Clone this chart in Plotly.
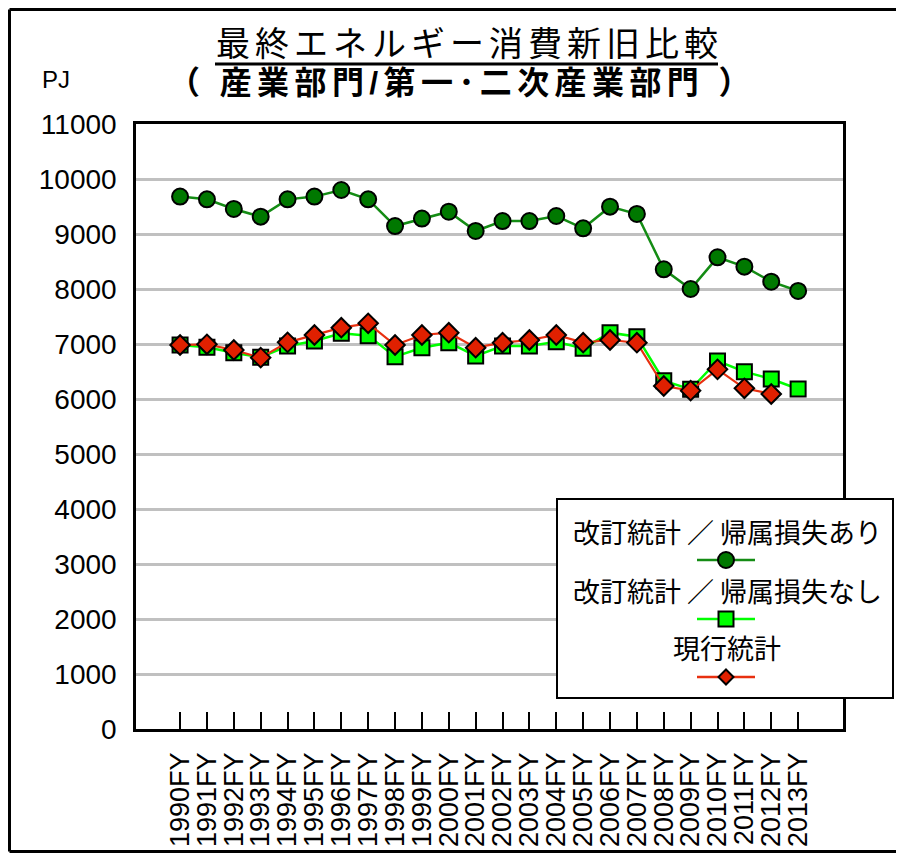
import plotly.graph_objects as go

years = [f"{y}FY" for y in range(1990, 2014)]

kaitei_ari = [9680, 9630, 9455, 9315, 9630, 9680, 9800, 9630, 9145, 9280, 9405, 9055,
              9236, 9236, 9327, 9103, 9497, 9364, 8358, 8000, 8576, 8406, 8133, 7964]
kaitei_nashi = [6982, 6939, 6842, 6758, 6964, 7055, 7194, 7152, 6770, 6933, 7024, 6782,
                6964, 6964, 7042, 6921, 7206, 7133, 6333, 6176, 6691, 6497, 6364, 6182]
genko = [6982, 6994, 6891, 6752, 7030, 7164, 7297, 7376, 6982, 7164, 7206, 6933,
         7024, 7073, 7164, 7024, 7073, 7024, 6236, 6152, 6539, 6194, 6091, None]

series_names = ["改訂統計 ／ 帰属損失あり", "改訂統計 ／ 帰属損失なし", "現行統計"]
title_1 = "最終エネルギー消費新旧比較"
title_2 = "（ 産業部門/第一･二次産業部門 ）"
unit_label = "PJ"

DKG_LINE = "#148c14"
DKG_FILL = "#007800"
LIME = "#00ff00"
RED = "#e02000"
RED_LINE = "#e83010"

fig = go.Figure()
fig.add_trace(go.Scatter(
    x=years, y=kaitei_ari, name=series_names[0], mode="lines+markers",
    line=dict(color=DKG_LINE, width=2.5),
    marker=dict(symbol="circle", size=16, color=DKG_FILL, line=dict(color="black", width=2)),
))
fig.add_trace(go.Scatter(
    x=years, y=kaitei_nashi, name=series_names[1], mode="lines+markers",
    line=dict(color=LIME, width=2.5),
    marker=dict(symbol="square", size=15, color=LIME, line=dict(color="black", width=2)),
))
fig.add_trace(go.Scatter(
    x=years, y=genko, name=series_names[2], mode="lines+markers",
    line=dict(color=RED_LINE, width=2.2),
    marker=dict(symbol="diamond", size=15, color=RED, line=dict(color="black", width=2)),
))

# page has an 8px body margin all round: the figure is sized so the page fits the window
OFF = 8
W, H = 904 - 2 * OFF, 861 - 2 * OFF
L, R, T, B = 136 - OFF, 843 - OFF, 124 - OFF, 729 - OFF
PW, PH = R - L, B - T

def px(x):  # page px -> paper
    return (x - OFF - L) / PW

def py(y):
    return (B - (y - OFF)) / PH

shapes = []
annotations = []

# outer chart frame (left, top, bottom; right edge is outside the picture)
frame = dict(color="black", width=3)
FB = 851.5
shapes.append(dict(type="line", xref="paper", yref="paper", x0=px(OFF + 1.5), x1=px(OFF + 1.5),
                   y0=py(FB), y1=py(OFF + 1.5), line=frame, layer="below"))
shapes.append(dict(type="line", xref="paper", yref="paper", x0=px(OFF + 1.5), x1=px(1000),
                   y0=py(OFF + 1.5), y1=py(OFF + 1.5), line=frame, layer="below"))
shapes.append(dict(type="line", xref="paper", yref="paper", x0=px(OFF + 1.5), x1=px(1000),
                   y0=py(FB), y1=py(FB), line=frame, layer="below"))

# legend box
shapes.append(dict(type="rect", xref="paper", yref="paper", x0=px(557), x1=px(893),
                   y0=py(698), y1=py(499), line=dict(color="black", width=2),
                   fillcolor="white", layer="above"))

leg_font = dict(family="Noto Sans CJK JP, sans-serif", size=27, color="black")
text_y = [531, 590, 647]
line_y = [560, 619, 677]
lx0, lx1, mx = 697, 755, 726
styles = [(DKG_LINE, DKG_FILL, "circle"), (LIME, LIME, "square"), (RED_LINE, RED, "diamond")]
for name, ty, ly, (lc, fc, sym) in zip(series_names, text_y, line_y, styles):
    annotations.append(dict(xref="paper", yref="paper", x=px(727), y=py(ty), text=name,
                            showarrow=False, font=leg_font, xanchor="center", yanchor="middle"))
    shapes.append(dict(type="line", xref="paper", yref="paper", x0=px(lx0), x1=px(lx1),
                       y0=py(ly), y1=py(ly), line=dict(color=lc, width=2.5), layer="above"))
    if sym == "circle":
        r = 8
        shapes.append(dict(type="circle", xref="paper", yref="paper", x0=px(mx - r), x1=px(mx + r),
                           y0=py(ly + r), y1=py(ly - r), fillcolor=fc,
                           line=dict(color="black", width=2), layer="above"))
    elif sym == "square":
        r = 7.5
        shapes.append(dict(type="rect", xref="paper", yref="paper", x0=px(mx - r), x1=px(mx + r),
                           y0=py(ly + r), y1=py(ly - r), fillcolor=fc,
                           line=dict(color="black", width=2), layer="above"))
    else:
        r = 7.5
        path = (f"M {px(mx)} {py(ly - r)} L {px(mx + r)} {py(ly)} L {px(mx)} {py(ly + r)} "
                f"L {px(mx - r)} {py(ly)} Z")
        shapes.append(dict(type="path", xref="paper", yref="paper", path=path, fillcolor=fc,
                           line=dict(color="black", width=2), layer="above"))

# titles (Latin primary font keeps the line boxes compact; CJK falls back to Noto)
title_family = "Liberation Sans, Noto Sans CJK JP, sans-serif"
annotations.append(dict(
    xref="paper", yref="paper", x=px(469), y=py(44),
    text=f"<span style='letter-spacing:5px'>{title_1}</span>",
    showarrow=False, font=dict(family=title_family, size=34, color="black"),
    xanchor="center", yanchor="middle"))
annotations.append(dict(
    xref="paper", yref="paper", x=px(462), y=py(83),
    text=f"<b><span style='letter-spacing:5.4px'>{title_2}</span></b>",
    showarrow=False, font=dict(family=title_family, size=32, color="black"),
    xanchor="center", yanchor="middle"))
# title underline
shapes.append(dict(type="line", xref="paper", yref="paper", x0=px(215), x1=px(718),
                   y0=py(64), y1=py(64), line=dict(color="black", width=3)))
annotations.append(dict(xref="paper", yref="paper", x=px(40), y=py(80), text=unit_label,
                        showarrow=False,
                        font=dict(family="Liberation Sans, Arial, sans-serif", size=24, color="black"),
                        xanchor="left", yanchor="middle"))

fig.update_layout(
    width=W, height=H,
    margin=dict(l=L, r=W - R, t=T, b=H - B, pad=0, autoexpand=False),
    paper_bgcolor="white", plot_bgcolor="white",
    showlegend=False,
    shapes=shapes, annotations=annotations,
    font=dict(family="Liberation Sans, Arial, sans-serif", color="black"),
)

fig.update_xaxes(
    type="category", range=[-1.64, 24.67], automargin=False,
    tickmode="array", tickvals=years, ticktext=years,
    showline=True, linecolor="black", linewidth=2.5, mirror=True,
    showgrid=False, ticks="inside", ticklen=17, tickwidth=2, tickcolor="black",
    tickangle=-90, tickfont=dict(size=27, family="Liberation Sans, Arial, sans-serif"),
    ticklabelstandoff=10, zeroline=False,
)
fig.update_yaxes(
    range=[0, 11000], dtick=1000, tickformat="d", automargin=False,
    showline=True, linecolor="black", linewidth=2.5, mirror=True,
    showgrid=True, gridcolor="#c0c0c0", gridwidth=2.5,
    ticks="", tickfont=dict(size=28, family="Liberation Sans, Arial, sans-serif"),
    ticklabelstandoff=11, zeroline=False,
)

fig.write_html("out.html")
